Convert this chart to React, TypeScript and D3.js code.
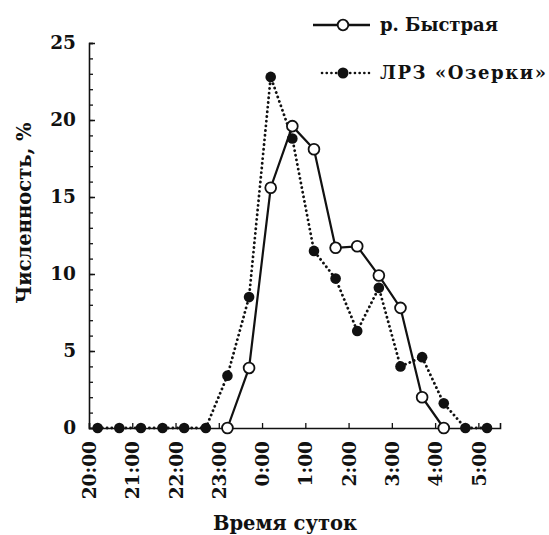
import React, { useRef, useEffect } from 'react';
import * as d3 from 'd3';

// ── Data ──────────────────────────────────────────────────────────────────────
const HOUR_LABELS = ['20:00', '21:00', '22:00', '23:00', '0:00', '1:00', '2:00', '3:00', '4:00', '5:00'];
const SAMPLE_TIMES = [
  '20:12', '20:42', '21:12', '21:42', '22:12', '22:42', '23:12', '23:42', '0:12', '0:42',
  '1:12', '1:42', '2:12', '2:42', '3:12', '3:42', '4:12', '4:42', '5:12',
];
const BYSTRAYA: (number | null)[] = [
  null, null, null, null, null, null, 0, 3.9, 15.6, 19.6, 18.1, 11.7, 11.8, 9.9, 7.8, 2.0, 0, null, null,
];
const OZERKI: number[] = [0, 0, 0, 0, 0, 0, 3.4, 8.5, 22.8, 18.8, 11.5, 9.7, 6.3, 9.1, 4.0, 4.6, 1.6, 0, 0];
const Y_MAJOR = [0, 5, 10, 15, 20, 25];

const W = 549;
const H = 535;
const FONT = '"DejaVu Serif", "Liberation Serif", serif';

// hours since 20:00
const toHours = (t: string) => {
  const [hh, mm] = t.split(':').map(Number);
  let h = hh + mm / 60;
  if (h < 12) h += 24;
  return h - 20;
};

export default function App() {
  const svgRef = useRef<SVGSVGElement>(null);

  useEffect(() => {
    if (!svgRef.current) return;
    const svg = d3.select(svgRef.current);
    svg.selectAll('*').remove();

    const x = d3.scaleLinear().domain([0, 9.5]).range([89, 500]);
    const y = d3.scaleLinear().domain([0, 25]).range([428, 43]);

    svg.append('rect').attr('width', W).attr('height', H).attr('fill', '#fff');

    const txt = (sel: any, size: number) =>
      sel.attr('font-family', FONT).attr('font-size', size).attr('font-weight', 700).attr('fill', '#111');

    // ── Y axis ──────────────────────────────────────────────────────────────
    svg.append('g')
      .attr('transform', `translate(${x(0)},0)`)
      .call(d3.axisLeft(y).tickValues(d3.range(0, 26)).tickSize(-4).tickFormat(() => ''))
      .call(ax => ax.select('.domain').attr('stroke', '#111').attr('stroke-width', 1.6))
      .call(ax => ax.selectAll('line').attr('stroke', '#111').attr('stroke-width', 1.3));

    svg.append('g')
      .attr('transform', `translate(${x(0)},0)`)
      .call(d3.axisLeft(y).tickValues(Y_MAJOR).tickSize(-6).tickPadding(13))
      .call(ax => ax.select('.domain').remove())
      .call(ax => ax.selectAll('line').attr('stroke', '#111').attr('stroke-width', 1.5))
      .call(ax => txt(ax.selectAll('text'), 18.5));

    // ── X axis ──────────────────────────────────────────────────────────────
    svg.append('g')
      .attr('transform', `translate(0,${y(0)})`)
      .call(d3.axisBottom(x)
        .tickValues(HOUR_LABELS.map(toHours))
        .tickSize(-5)
        .tickFormat((d, i) => HOUR_LABELS[i]))
      .call(ax => ax.select('.domain').attr('stroke', '#111').attr('stroke-width', 1.6))
      .call(ax => ax.selectAll('line').attr('stroke', '#111').attr('stroke-width', 1.3))
      .call(ax => txt(ax.selectAll('text'), 18.5)
        .attr('transform', 'rotate(-90)')
        .attr('text-anchor', 'end')
        .attr('x', -13).attr('y', 0).attr('dy', '0.36em'));

    // ── Axis titles ─────────────────────────────────────────────────────────
    txt(svg.append('text'), 19.5)
      .attr('transform', 'translate(31,213) rotate(-90)')
      .attr('text-anchor', 'middle')
      .text('Численность, %');

    txt(svg.append('text'), 19.5)
      .attr('x', 285).attr('y', 530)
      .attr('text-anchor', 'middle')
      .text('Время суток');

    // ── Series ──────────────────────────────────────────────────────────────
    const ozerki = SAMPLE_TIMES.map((t, i) => ({ t: toHours(t), v: OZERKI[i] }));
    const bystraya = SAMPLE_TIMES
      .map((t, i) => ({ t: toHours(t), v: BYSTRAYA[i] }))
      .filter(d => d.v !== null) as { t: number; v: number }[];

    const line = d3.line<{ t: number; v: number }>().x(d => x(d.t)).y(d => y(d.v));

    svg.append('path')
      .attr('d', line(ozerki))
      .attr('fill', 'none').attr('stroke', '#111').attr('stroke-width', 2.8)
      .attr('stroke-linecap', 'round').attr('stroke-dasharray', '0.1 4.6');

    svg.append('g').selectAll('circle')
      .data(ozerki).join('circle')
      .attr('cx', d => x(d.t)).attr('cy', d => y(d.v)).attr('r', 5.3)
      .attr('fill', '#111');

    svg.append('path')
      .attr('d', line(bystraya))
      .attr('fill', 'none').attr('stroke', '#111').attr('stroke-width', 2.2);

    svg.append('g').selectAll('circle')
      .data(bystraya).join('circle')
      .attr('cx', d => x(d.t)).attr('cy', d => y(d.v)).attr('r', 5.4)
      .attr('fill', '#fff').attr('stroke', '#111').attr('stroke-width', 1.8);

    // ── Legend ──────────────────────────────────────────────────────────────
    const lg = svg.append('g');
    lg.append('line').attr('x1', 313).attr('x2', 370).attr('y1', 25).attr('y2', 25)
      .attr('stroke', '#111').attr('stroke-width', 2.4);
    lg.append('circle').attr('cx', 343).attr('cy', 25).attr('r', 5.3)
      .attr('fill', '#fff').attr('stroke', '#111').attr('stroke-width', 1.8);
    txt(lg.append('text'), 18).attr('x', 380).attr('y', 31)
      .attr('textLength', 118).attr('lengthAdjust', 'spacing')
      .text('р. Быстрая');

    lg.append('line').attr('x1', 322).attr('x2', 369).attr('y1', 73).attr('y2', 73)
      .attr('stroke', '#111').attr('stroke-width', 2.6)
      .attr('stroke-linecap', 'round').attr('stroke-dasharray', '0.1 4.6');
    lg.append('circle').attr('cx', 343).attr('cy', 73).attr('r', 5.5).attr('fill', '#111');
    txt(lg.append('text'), 18).attr('x', 380).attr('y', 79)
      .attr('textLength', 166).attr('lengthAdjust', 'spacing')
      .text('ЛРЗ «Озерки»');
  }, []);

  return (
    <div style={{ position: 'absolute', left: 0, top: 0 }}>
      <svg ref={svgRef} width={W} height={H} style={{ display: 'block' }} />
    </div>
  );
}
